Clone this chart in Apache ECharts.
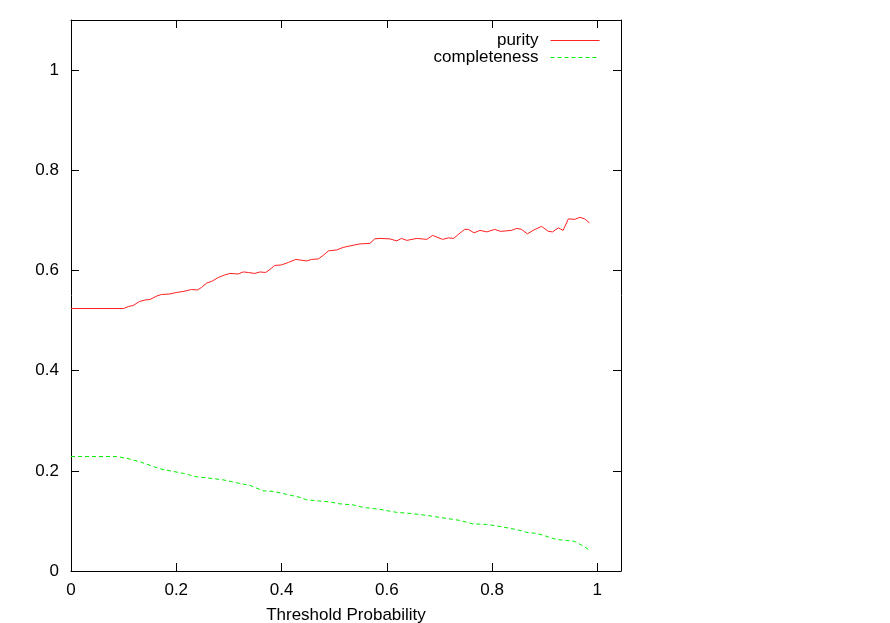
<!DOCTYPE html>
<html>
<head>
<meta charset="utf-8">
<script src="https://cdn.jsdelivr.net/npm/echarts@6/dist/echarts.min.js"></script>
<style>html,body{margin:0;padding:0;background:#fff}#c{width:890px;height:623px}</style>
</head>
<body>
<div id="c"></div>
<script>
const xTicks = ['0','0.2','0.4','0.6','0.8','1'];
const yTicks = ['0','0.2','0.4','0.6','0.8','1'];
const seriesNames = ['purity','completeness'];

const purityX = [0, 0.10, 0.109, 0.118, 0.130, 0.141, 0.150, 0.163, 0.172, 0.188, 0.200, 0.213, 0.229, 0.240, 0.248, 0.258, 0.267, 0.280, 0.292, 0.302, 0.318, 0.327, 0.337, 0.349, 0.359, 0.370, 0.378, 0.387, 0.400, 0.413, 0.427, 0.448, 0.457, 0.470, 0.479, 0.489, 0.505, 0.517, 0.530, 0.549, 0.568, 0.577, 0.587, 0.606, 0.619, 0.628, 0.638, 0.657, 0.676, 0.687, 0.706, 0.717, 0.727, 0.736, 0.748, 0.755, 0.766, 0.777, 0.790, 0.805, 0.816, 0.837, 0.847, 0.856, 0.867, 0.878, 0.894, 0.907, 0.915, 0.926, 0.935, 0.945, 0.957, 0.967, 0.976, 0.985];
const purityY = [0.524, 0.524, 0.528, 0.530, 0.538, 0.541, 0.542, 0.549, 0.552, 0.553, 0.556, 0.558, 0.562, 0.561, 0.566, 0.575, 0.578, 0.586, 0.591, 0.594, 0.593, 0.597, 0.596, 0.594, 0.597, 0.596, 0.602, 0.610, 0.611, 0.616, 0.622, 0.619, 0.622, 0.623, 0.630, 0.639, 0.641, 0.646, 0.649, 0.653, 0.654, 0.663, 0.664, 0.663, 0.659, 0.664, 0.660, 0.664, 0.662, 0.670, 0.662, 0.665, 0.664, 0.672, 0.682, 0.682, 0.675, 0.680, 0.677, 0.682, 0.678, 0.680, 0.684, 0.682, 0.673, 0.680, 0.688, 0.678, 0.677, 0.685, 0.680, 0.703, 0.702, 0.706, 0.703, 0.695];

const compX = [0, 0.087, 0.106, 0.131, 0.150, 0.169, 0.188, 0.213, 0.239, 0.258, 0.289, 0.315, 0.340, 0.365, 0.384, 0.410, 0.435, 0.448, 0.470, 0.492, 0.511, 0.536, 0.555, 0.587, 0.619, 0.644, 0.676, 0.707, 0.739, 0.764, 0.790, 0.815, 0.840, 0.853, 0.866, 0.885, 0.904, 0.922, 0.941, 0.957, 0.973, 0.986];
const compY = [0.2285, 0.2285, 0.225, 0.218, 0.211, 0.204, 0.200, 0.195, 0.188, 0.186, 0.182, 0.176, 0.171, 0.160, 0.159, 0.153, 0.147, 0.142, 0.140, 0.138, 0.134, 0.132, 0.127, 0.123, 0.117, 0.115, 0.111, 0.106, 0.101, 0.094, 0.093, 0.089, 0.084, 0.081, 0.077, 0.075, 0.069, 0.063, 0.061, 0.059, 0.050, 0.041];

const pair = (xs, ys) => xs.map((x, i) => [x, ys[i]]);
const FONT = 'Liberation Sans';
const FS = 17;
const RED = '#ff2020', GREEN = '#00ee00';
const fmt = v => (+v).toFixed(1).replace(/\.0$/, '');
const xLab = v => { const s = fmt(v); return xTicks.includes(s) ? s : ''; };
const yLab = v => { const s = fmt(v); return yTicks.includes(s) ? s : ''; };

const axisLine = {show: true, onZero: false, lineStyle: {color: '#000', width: 1}};
const tick = {show: true, inside: true, length: 8, lineStyle: {color: '#000', width: 1}};

const chart = echarts.init(document.getElementById('c'), null, {renderer: 'canvas'});
chart.setOption({
  animation: false,
  backgroundColor: '#fff',
  textStyle: {fontFamily: FONT},
  grid: {left: 71, right: 269, top: 20, bottom: 52, containLabel: false, outerBoundsMode: 'none'},
  legend: {
    data: [
      {name: seriesNames[0], lineStyle: {color: RED, width: 1, type: 'solid'}},
      {name: seriesNames[1], lineStyle: {color: GREEN, width: 1, type: [4, 3]}}
    ],
    orient: 'vertical',
    align: 'right',
    right: 285,
    top: 27,
    itemWidth: 49,
    itemHeight: 10,
    itemGap: 0,
    itemStyle: {opacity: 0},
    textStyle: {fontFamily: FONT, fontSize: FS, color: '#000', lineHeight: 16, padding: [0, 7, 0, 0]}
  },
  xAxis: [
    {type: 'value', position: 'bottom', min: 0, max: 1.045, interval: 0.2,
     axisLine, axisTick: tick, splitLine: {show: false},
     axisLabel: {fontSize: FS, color: '#000', margin: 11, formatter: xLab, showMaxLabel: false},
     name: 'Threshold Probability', nameLocation: 'middle', nameGap: 36,
     nameTextStyle: {fontSize: FS, color: '#000', fontFamily: FONT}},
    {type: 'value', position: 'top', min: 0, max: 1.045, interval: 0.2,
     axisLine, axisTick: tick, splitLine: {show: false}, axisLabel: {show: false}}
  ],
  yAxis: [
    {type: 'value', position: 'left', min: 0, max: 1.1, interval: 0.2,
     axisLine, axisTick: tick, splitLine: {show: false},
     axisLabel: {fontSize: FS, color: '#000', margin: 12, formatter: yLab, showMaxLabel: false}},
    {type: 'value', position: 'right', min: 0, max: 1.1, interval: 0.2,
     axisLine, axisTick: tick, splitLine: {show: false}, axisLabel: {show: false}}
  ],
  series: [
    {name: seriesNames[0], type: 'line', data: pair(purityX, purityY), symbol: 'none',
     color: RED, lineStyle: {color: RED, width: 1}},
    {name: seriesNames[1], type: 'line', data: pair(compX, compY), symbol: 'none',
     color: GREEN, lineStyle: {color: GREEN, width: 1, type: [4, 3]}}
  ]
});
</script>
</body>
</html>
